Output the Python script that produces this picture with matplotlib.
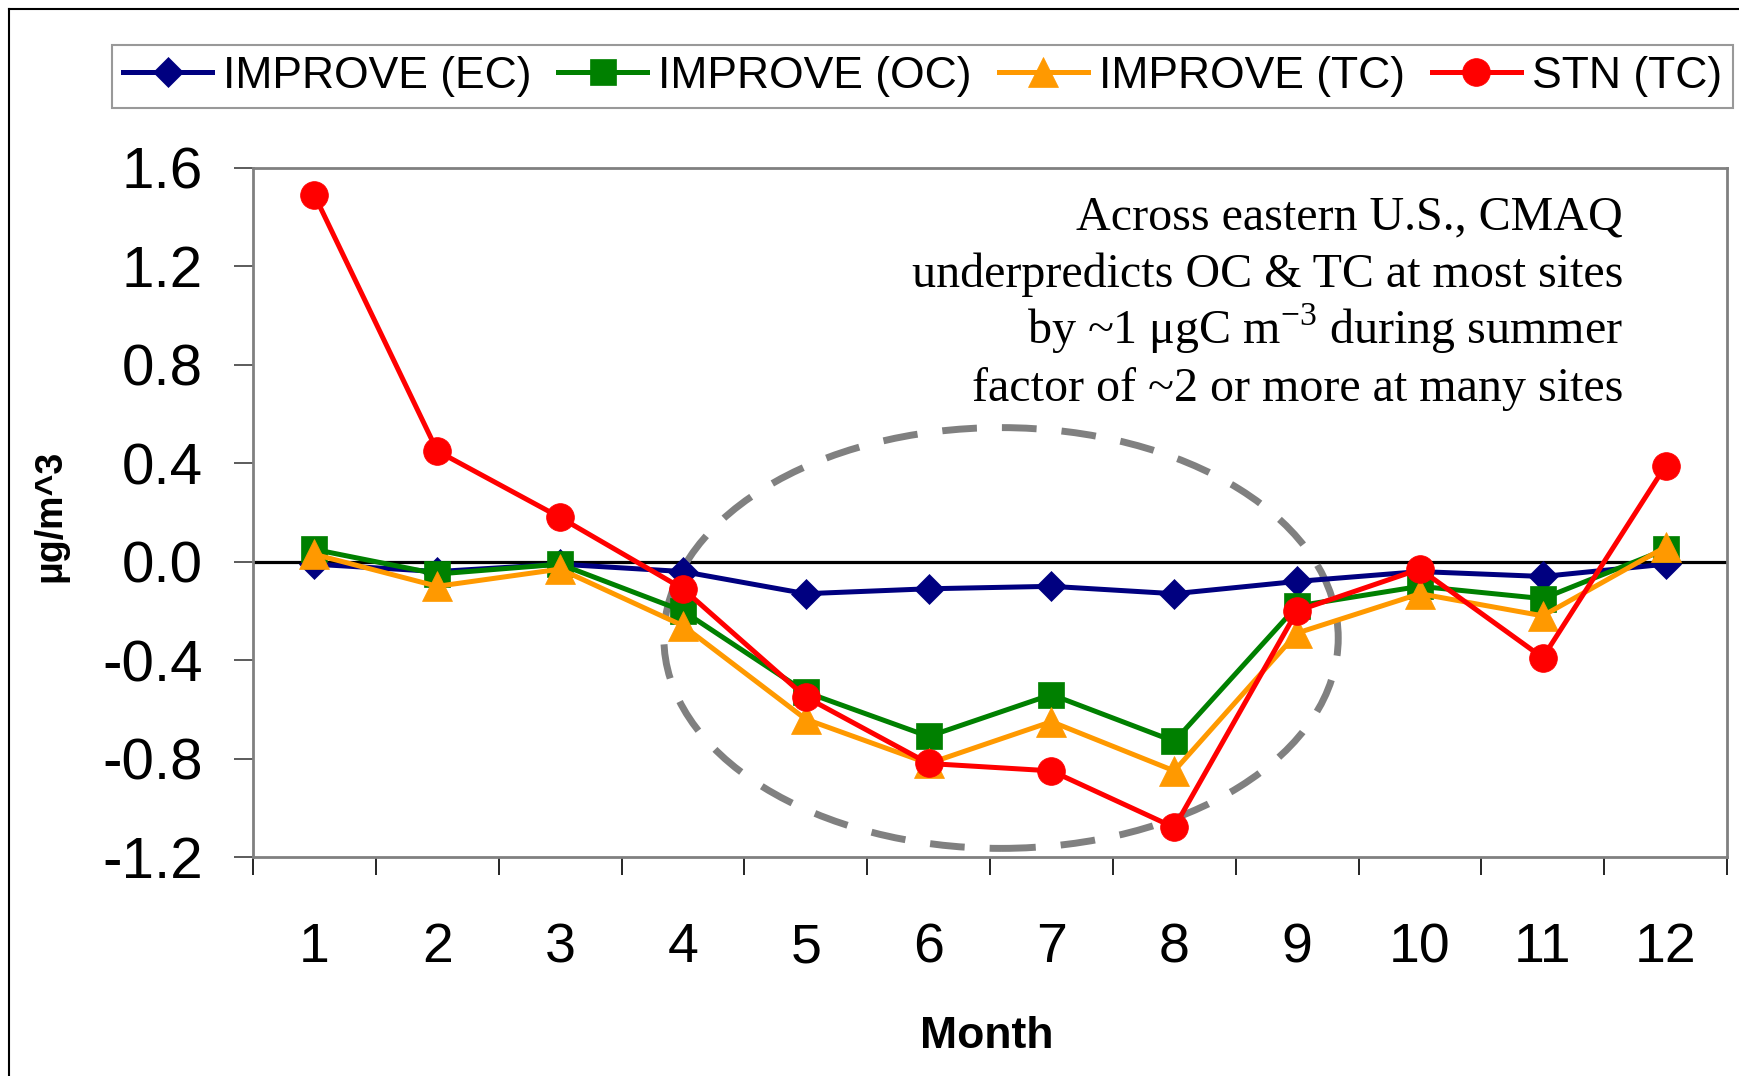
import matplotlib
matplotlib.use("Agg")
import matplotlib.pyplot as plt
from matplotlib.patches import Ellipse
from matplotlib.lines import Line2D

months = [1, 2, 3, 4, 5, 6, 7, 8, 9, 10, 11, 12]
month_labels = ["1", "2", "3", "4", "5", "6", "7", "8", "9", "10", "11", "12"]
improve_ec = [-0.01, -0.04, -0.01, -0.04, -0.13, -0.11, -0.10, -0.13, -0.08, -0.04, -0.06, -0.01]
improve_oc = [0.05, -0.05, -0.01, -0.20, -0.53, -0.71, -0.54, -0.73, -0.18, -0.10, -0.15, 0.05]
improve_tc = [0.03, -0.10, -0.03, -0.26, -0.64, -0.82, -0.65, -0.85, -0.29, -0.13, -0.22, 0.06]
stn_tc = [1.49, 0.45, 0.18, -0.11, -0.55, -0.82, -0.85, -1.08, -0.20, -0.03, -0.39, 0.39]
series_names = ["IMPROVE (EC)", "IMPROVE (OC)", "IMPROVE (TC)", "STN (TC)"]
y_ticks = [1.6, 1.2, 0.8, 0.4, 0.0, -0.4, -0.8, -1.2]
annotation_lines = [
    "Across eastern U.S., CMAQ",
    "underpredicts OC & TC at most sites",
    r"by ~1 μgC m$^{\mathregular{-3}}$ during summer",
    "factor of ~2 or more at many sites",
]

W, H = 1739, 1076
fig = plt.figure(figsize=(W / 100, H / 100), dpi=100)
ax = fig.add_axes([253 / W, 1 - 857 / H, (1727 - 253) / W, (857 - 168) / H])

sans = "Liberation Sans"
serif = "Liberation Serif"

styles = [
    dict(color="#000080", marker="D", markersize=15),
    dict(color="#008000", marker="s", markersize=19),
    dict(color="#FF9900", marker="^", markersize=22),
    dict(color="#FF0000", marker="o", markersize=20),
]
data = [improve_ec, improve_oc, improve_tc, stn_tc]

ax.axhline(0, color="black", lw=2.3, zorder=2)

ell = Ellipse((6.59, -0.31), 5.49, 1.71, fill=False, edgecolor="#808080",
              lw=5.0, linestyle=(0, (5.0, 3.6)), zorder=2.5)
ax.add_patch(ell)

handles = []
for name, vals, st in zip(series_names, data, styles):
    (ln,) = ax.plot(months, vals, color=st["color"], lw=3.6, marker=st["marker"],
                    markersize=st["markersize"], markerfacecolor=st["color"],
                    markeredgecolor=st["color"], markeredgewidth=0.5,
                    label=name, zorder=3)
    handles.append(ln)

ax.set_xlim(0.5, 12.5)
ax.set_ylim(-1.2, 1.6)

# x: ticks at category boundaries, labels at centres
ax.set_xticks([m - 0.5 for m in months] + [12.5])
ax.set_xticklabels([])
ax.set_xticks(months, minor=True)
ax.set_xticklabels(month_labels, minor=True, fontsize=40, family=sans)
ax.tick_params(axis="x", which="major", direction="out", length=13, width=1.2, color="black")
ax.tick_params(axis="x", which="minor", length=0, pad=47)

ax.set_yticks(y_ticks)
ax.set_yticklabels([f"{v:.1f}" for v in y_ticks], fontsize=42, family=sans)
ax.tick_params(axis="y", direction="out", length=14, width=1.2, color="#404040", pad=22)

for s in ax.spines.values():
    s.set_color("#808080")
    s.set_linewidth(2)

fig.text(50 / W, 1 - 516 / H, "μg/m^3", rotation=90, ha="center", va="center",
         fontsize=27, fontweight="bold", family=sans)
fig.text(987 / W, 1 - 1036 / H, "Month", ha="center", va="center",
         fontsize=32, fontweight="bold", family=sans)

base0 = 229.5
step = 57.2
for i, line in enumerate(annotation_lines):
    fig.text(1623 / W, 1 - (base0 + i * step) / H, line, ha="right", va="baseline",
             fontsize=34.6, family=serif)

leg = fig.legend(handles=handles, labels=series_names, loc="lower left",
                 bbox_to_anchor=(112 / W, 1 - 108 / H, (1733 - 112) / W, (108 - 39) / H),
                 mode="expand", ncol=4, fancybox=False, frameon=True,
                 prop={"family": sans, "size": 32}, handlelength=2.0, handletextpad=0.25,
                 columnspacing=0.5, borderaxespad=0, borderpad=0.25)
leg.get_frame().set_edgecolor("#808080")
leg.get_frame().set_linewidth(1.5)

# outer chart-area frame (left and top edges visible)
fig.add_artist(Line2D([9 / W, 9 / W], [0, 1 - 9 / H], color="black", lw=1.5))
fig.add_artist(Line2D([9 / W, 1], [1 - 9 / H, 1 - 9 / H], color="black", lw=1.5))

fig.savefig("out.png", dpi=100, facecolor="white")
